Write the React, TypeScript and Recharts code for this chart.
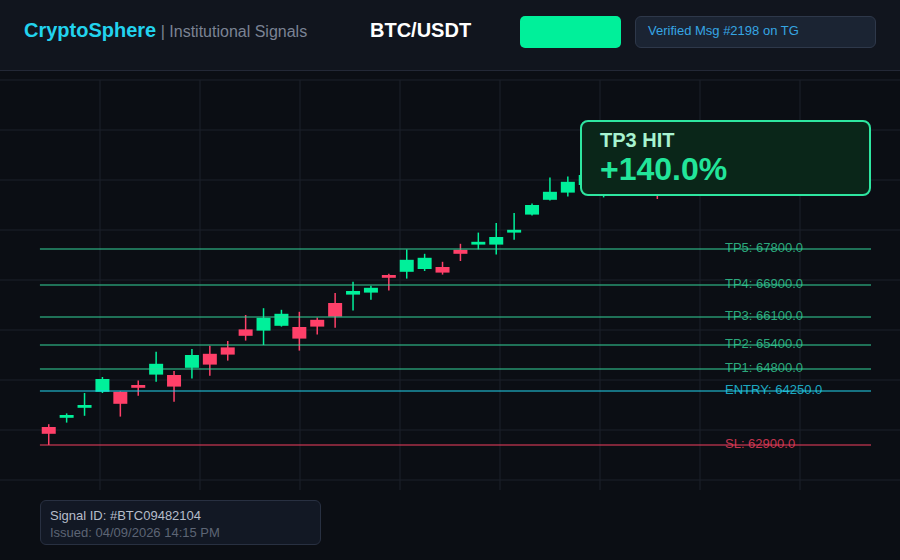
import React from 'react';
import { ComposedChart, Bar, XAxis, YAxis, CartesianGrid, ReferenceLine } from 'recharts';

// candle index (x), OHLC
const opens = [
  63350, 63580, 63830, 64230, 64230, 64400, 64660, 64650, 64830, 65180,
  65340, 65790, 65760, 65880, 65850, 66030, 66450, 66660, 66710, 67150,
  67230, 67300, 67350, 67780, 67910, 67910, 68210, 68660, 69030, 69210,
  69400, 69620, 69930, 70180, 70020, 69720, 70060,
];
const highs = [
  63420, 63690, 64200, 64600, 64240, 64510, 65230, 64750, 65300, 65380,
  65500, 66150, 66320, 66280, 66230, 66090, 66700, 66980, 66880, 67180,
  67790, 67680, 67480, 67930, 68210, 68450, 68700, 68940, 69590, 69610,
  69720, 70080, 70250, 70300, 70150, 70120, 70400,
];
const lows = [
  62900, 63460, 63630, 64200, 63610, 64130, 64480, 63980, 64560, 64630,
  65010, 65510, 65400, 65860, 65260, 65660, 65830, 66260, 66530, 66760,
  67060, 67250, 67160, 67500, 67790, 67660, 68030, 68640, 69010, 69110,
  69330, 69090, 69800, 69900, 69050, 69600, 69950,
];
const closes = [
  63180, 63650, 63900, 64550, 63930, 64330, 64930, 64360, 65150, 64910,
  65160, 65630, 66080, 66180, 65560, 65860, 66110, 66750, 66830, 67080,
  67530, 67580, 67210, 67680, 67980, 68100, 68280, 68900, 69230, 69480,
  69650, 69930, 70180, 70000, 69720, 70060, 70320,
];

const levelNames = ['TP5', 'TP4', 'TP3', 'TP2', 'TP1', 'ENTRY', 'SL'];
const levelValues = [67800, 66900, 66100, 65400, 64800, 64250, 62900];
const levelColors = ['#34d399', '#34d399', '#34d399', '#34d399', '#34d399', '#22d3ee', '#f43f5e'];

const GREEN = '#00f09a';
const RED = '#ff4069';

const data = opens.map((open, i) => ({
  i,
  open,
  high: highs[i],
  low: lows[i],
  close: closes[i],
}));

const Candle = (props: any) => {
  const { x, y, width, height, payload } = props;
  if (payload == null) return null;
  const top = Math.min(y, y + height);
  const h = Math.abs(height);
  const { open, close, high, low } = payload;
  const k = h / (high - low);
  const yOf = (v: number) => top + (high - v) * k;
  const color = close >= open ? GREEN : RED;
  const bTop = yOf(Math.max(open, close));
  const bBot = yOf(Math.min(open, close));
  const cx = x + width / 2;
  return (
    <g>
      <line x1={cx} x2={cx} y1={top} y2={top + h} stroke={color} strokeWidth={1.5} />
      <rect x={x} y={bTop} width={width} height={Math.max(bBot - bTop, 2)} fill={color} />
    </g>
  );
};

const FONT = "'Liberation Sans', Arial, sans-serif";

const levelLabel = (text: string, color: string) => (props: any) => {
  const vb = props.viewBox || {};
  return (
    <text x={vb.x + vb.width - 146} y={vb.y + 3} fill={color} fillOpacity={0.8} fontSize={13} fontFamily={FONT}>
      {text}
    </text>
  );
};

export default function App() {
  return (
    <div style={{ position: 'relative', width: 900, height: 560, background: '#0b0e14', fontFamily: FONT, overflow: 'hidden' }}>
      <style>{'body{margin:0}'}</style>

      {/* header */}
      <div style={{ position: 'absolute', left: 0, top: 0, width: 900, height: 70, background: '#11151e', borderBottom: '1px solid #232836' }} />
      <div style={{ position: 'absolute', left: 24, top: 20, whiteSpace: 'nowrap', lineHeight: '20px' }}>
        <span style={{ fontSize: 20, fontWeight: 700, color: '#22d3ee' }}>CryptoSphere</span>
        <span style={{ fontSize: 16, color: '#7b8394' }}> | Institutional Signals</span>
      </div>
      <div style={{ position: 'absolute', left: 370, top: 20, fontSize: 20, fontWeight: 700, color: '#ffffff', lineHeight: '20px' }}>
        BTC/USDT
      </div>
      <div style={{ position: 'absolute', left: 520, top: 16, width: 101, height: 32, background: GREEN, borderRadius: 5 }} />
      <div
        style={{
          position: 'absolute', left: 635, top: 16, width: 241, height: 32, boxSizing: 'border-box',
          background: '#1b2433', border: '1px solid #2e384a', borderRadius: 6,
        }}
      >
        <div style={{ position: 'absolute', left: 12, top: 7, fontSize: 13, lineHeight: '13px', color: '#36a6e3', whiteSpace: 'nowrap' }}>
          Verified Msg #2198 on TG
        </div>
      </div>

      {/* chart */}
      <div style={{ position: 'absolute', left: 0, top: 70 }}>
        <ComposedChart width={900} height={420} data={data} margin={{ top: 10, right: 0, bottom: 0, left: 0 }}>
          <CartesianGrid
            stroke="#1c202b"
            horizontalPoints={[10, 60, 110, 160, 210, 260, 310, 360, 410]}
            verticalPoints={[100, 200, 300, 400, 500, 600, 700, 800]}
          />
          <XAxis type="number" dataKey="i" hide domain={[-2.72, 47.56]} allowDataOverflow />
          <YAxis type="number" hide domain={[61775, 72025]} allowDataOverflow />
          {levelNames.map((name, k) => (
            <ReferenceLine
              key={name}
              segment={[
                { x: -0.49, y: levelValues[k] },
                { x: 45.94, y: levelValues[k] },
              ]}
              stroke={levelColors[k]}
              strokeWidth={1.2}
              label={levelLabel(`${name}: ${levelValues[k].toFixed(1)}`, levelColors[k])}
            />
          ))}
          <Bar
            dataKey={(d: any) => [d.low, d.high]}
            barSize={14}
            shape={Candle}
            isAnimationActive={false}
          />
        </ComposedChart>
      </div>

      {/* TP3 hit badge */}
      <div
        style={{
          position: 'absolute', left: 580, top: 120, width: 291, height: 76, boxSizing: 'border-box',
          background: '#0a2619', border: '2px solid #2ee6a0', borderRadius: 8,
        }}
      >
        <div style={{ position: 'absolute', left: 18, top: 8, fontSize: 20, lineHeight: '20px', fontWeight: 700, color: '#a7f3d0' }}>
          TP3 HIT
        </div>
        <div style={{ position: 'absolute', left: 18, top: 31, fontSize: 32, lineHeight: '32px', fontWeight: 700, color: '#22e59a' }}>
          +140.0%
        </div>
      </div>

      {/* signal footer */}
      <div
        style={{
          position: 'absolute', left: 40, top: 500, width: 281, height: 45, boxSizing: 'border-box',
          background: '#121824', border: '1px solid #283041', borderRadius: 6,
          padding: '6px 0 0 9px', fontSize: 13, lineHeight: '17px', whiteSpace: 'nowrap',
        }}
      >
        <div style={{ color: '#b6bdca' }}>Signal ID: #BTC09482104</div>
        <div style={{ color: '#5d6575' }}>Issued: 04/09/2026 14:15 PM</div>
      </div>
    </div>
  );
}
